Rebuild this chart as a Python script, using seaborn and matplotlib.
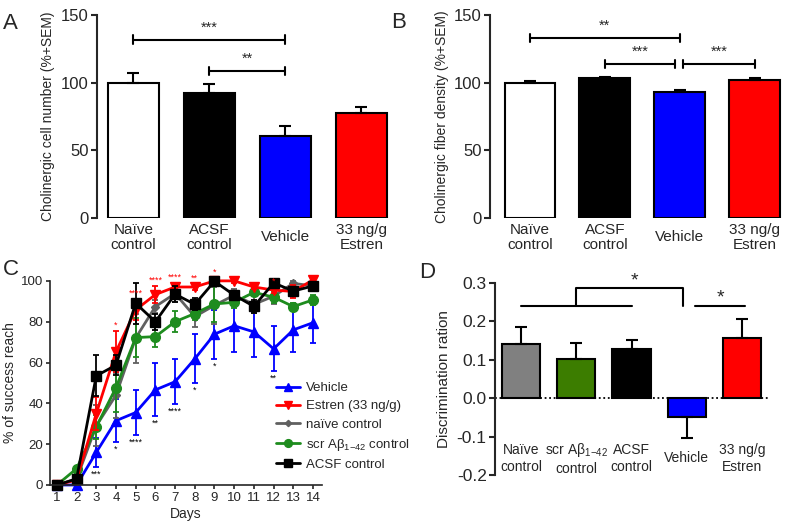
import numpy as np
import pandas as pd
import matplotlib
matplotlib.use('Agg')
import matplotlib.pyplot as plt
import seaborn as sns
from matplotlib.lines import Line2D

sns.set_theme(style="ticks")
plt.rcParams['font.family'] = ['Liberation Sans', 'DejaVu Sans']
plt.rcParams['mathtext.fontset'] = 'custom'
plt.rcParams['mathtext.rm'] = 'Liberation Sans'
plt.rcParams['axes.linewidth'] = 1.5

# ---- datos panel A / B ----
groups_ab = ['Naïve\ncontrol', 'ACSF\ncontrol', 'Vehicle', '33 ng/g\nEstren']
colors_ab = ['white', 'black', '#0000FF', '#FF0000']
cell_number = [100, 92.5, 60.5, 77.5]
cell_number_sem = [7, 6.8, 7.5, 4.7]
fiber_density = [100, 103.2, 93.3, 102]
fiber_density_sem = [1.5, 0.8, 1.5, 1.6]
sig_a = [(0, 2, 132, '***'), (1, 2, 109, '**')]
sig_b = [(0, 2, 133, '**'), (1, 1.94, 114, '***'), (2.05, 3, 114, '***')]

# ---- datos panel C ----
days = list(range(1, 15))
vehicle = [0, 0, 16, 31.5, 35.5, 46.6, 50.6, 61.8, 73.9, 78, 75, 66.7, 76, 79.5]
vehicle_sem = [0, 0, 7, 10.5, 11, 13, 11, 12, 12, 13, 12.5, 11, 11, 10]
estren = [0, 2.5, 35, 65.3, 85.8, 93.3, 97, 97, 100, 100, 97, 95.5, 94.8, 100.5]
estren_sem = [0, 1, 8, 10, 5, 4, 2, 1.5, 1, 1, 1, 1.5, 3, 1.5]
naive = [0, 3, 29, 44, 72, 87.4, 93.8, 82.5, 88, 93, 88.5, 92.5, 98.8, 97.5]
naive_sem = [0, 1, 10, 11, 12, 3, 4, 5, 9, 3, 4, 4, 1, 2]
scr = [0, 8, 28.5, 47.7, 72.2, 72.7, 80, 84, 88.7, 89.5, 94.4, 92, 87.4, 90.7]
scr_sem = [0, 1.5, 6, 12, 9.5, 5, 5, 3, 9, 3, 2, 3, 2, 2.5]
acsf = [0, 3, 53.5, 58.7, 89, 80, 93.5, 88.5, 99.8, 93, 87.5, 99, 95, 97.5]
acsf_sem = [0, 1, 10, 5, 10, 4, 4, 3, 2, 2, 3, 2, 2, 1]
red_stars = {4: '*', 5: '****', 6: '****', 7: '****', 8: '**', 9: '*', 12: '*'}
black_stars = {3: '***', 4: '*', 5: '****', 6: '**', 7: '****', 8: '*', 9: '*', 12: '**'}

# ---- datos panel D ----
abeta = 'Aβ$_{\\mathregular{1{-}42}}$'
groups_d = ['Naïve\ncontrol', 'scr ' + abeta + '\ncontrol', 'ACSF\ncontrol', 'Vehicle', '33 ng/g\nEstren']
colors_d = ['#808080', '#3C7D00', 'black', '#0000FF', '#FF0000']
discrimination = [0.1415, 0.1016, 0.127, -0.0495, 0.157]
discrimination_sem = [0.0435, 0.041, 0.025, 0.053, 0.0505]

fig = plt.figure(figsize=(7.87, 5.25), dpi=100)


def bar_panel(ax, labels, vals, errs, colors, width):
    df = pd.DataFrame({'group': labels, 'value': vals})
    sns.barplot(data=df, x='group', y='value', hue='group', palette=colors, width=width,
                edgecolor='black', linewidth=1.5, saturation=1, legend=False, ax=ax)
    x = np.arange(len(vals))
    vals = np.array(vals)
    errs = np.array(errs)
    up = np.where(vals >= 0, errs, 0)
    lo = np.where(vals < 0, errs, 0)
    ax.errorbar(x, vals, yerr=[lo, up], fmt='none', ecolor='black', elinewidth=1.5,
                capsize=4.5, capthick=1.5, zorder=3)
    ax.set_xlabel('')
    sns.despine(ax=ax, bottom=True)


def brackets(ax, sigs, tick, off):
    for x1, x2, y, txt in sigs:
        ax.plot([x1, x2], [y, y], color='black', lw=1.5, clip_on=False)
        ax.plot([x1, x1], [y - tick, y + tick], color='black', lw=1.5, clip_on=False)
        ax.plot([x2, x2], [y - tick, y + tick], color='black', lw=1.5, clip_on=False)
        ax.text((x1 + x2) / 2, y + off, txt, ha='center', va='center', fontsize=10.5)


# Panel A
axA = fig.add_axes([0.123, 0.585, 0.373, 0.386])
bar_panel(axA, groups_ab, cell_number, cell_number_sem, colors_ab, 0.67)
axA.set_xlim(-0.48, 3.38)
axA.set_ylim(0, 150)
axA.set_yticks([0, 50, 100, 150])
axA.set_ylabel('Cholinergic cell number (%+SEM)', fontsize=10)
brackets(axA, sig_a, 3, 9)

# Panel B
axB = fig.add_axes([0.623, 0.585, 0.372, 0.386])
bar_panel(axB, groups_ab, fiber_density, fiber_density_sem, colors_ab, 0.68)
axB.set_xlim(-0.53, 3.38)
axB.set_ylim(0, 150)
axB.set_yticks([0, 50, 100, 150])
axB.set_ylabel('Cholinergic fiber density (%+SEM)', fontsize=10)
brackets(axB, sig_b, 3, 9)

for ax in (axA, axB):
    ax.set_xticks(range(4))
    ax.set_xticklabels(groups_ab, fontsize=11, va='center', linespacing=1.1)
    ax.tick_params(axis='x', length=0, pad=14)
    ax.tick_params(axis='y', labelsize=12, length=4, width=1.5, pad=2)

# Panel C
axC = fig.add_axes([0.0635, 0.0762, 0.3455, 0.3888])
series = [
    ('Vehicle', vehicle, vehicle_sem, '#0000FF', '^', 7),
    ('naïve control', naive, naive_sem, '#606060', 'D', 4),
    ('scr ' + abeta + ' control', scr, scr_sem, '#1E8C1E', 'o', 7),
    ('Estren (33 ng/g)', estren, estren_sem, '#FF0000', 'v', 7),
    ('ACSF control', acsf, acsf_sem, '#000000', 's', 6.5),
]
for name, vals, errs, col, mk, ms in series:
    axC.errorbar(days, vals, yerr=errs, fmt='none', ecolor=col, elinewidth=1.3,
                 capsize=2.2, capthick=1.3, clip_on=False)
    sns.lineplot(x=days, y=vals, color=col, marker=mk, markersize=ms, lw=2,
                 markeredgecolor=col, markeredgewidth=1, clip_on=False, ax=axC)

for d, s in red_stars.items():
    i = days.index(d)
    axC.text(d, estren[i] + estren_sem[i] + 3, s, color='#FF0000', fontsize=6.5,
             ha='center', va='center')
for d, s in black_stars.items():
    i = days.index(d)
    axC.text(d, vehicle[i] - vehicle_sem[i] - 3.5, s, color='black', fontsize=6.5,
             ha='center', va='center')

axC.set_xlim(0.65, 14.45)
axC.set_ylim(0, 100)
axC.set_xticks(days)
axC.set_yticks([0, 20, 40, 60, 80, 100])
axC.set_xlabel('Days', fontsize=10, labelpad=2)
axC.set_ylabel('% of success reach', fontsize=10, labelpad=3)
axC.tick_params(labelsize=9.5, length=3, width=1.2, pad=2)
for sp in ('left', 'bottom'):
    axC.spines[sp].set_linewidth(1.2)
sns.despine(ax=axC)

legend_order = [0, 3, 1, 2, 4]
handles = []
for k in legend_order:
    name, vals, errs, col, mk, ms = series[k]
    handles.append(Line2D([0], [0], color=col, lw=2, marker=mk, markersize=ms * 0.8,
                          markeredgecolor=col, label=name))
axC.legend(handles=handles, loc='upper left', bbox_to_anchor=(276 / 787, 1 - 382 / 525),
           bbox_transform=fig.transFigure, frameon=False, fontsize=9.5,
           handlelength=1.8, handletextpad=0.5, labelspacing=0.45,
           borderpad=0, borderaxespad=0)

# Panel D
axD = fig.add_axes([0.629, 0.095, 0.347, 0.366])
bar_panel(axD, groups_d, discrimination, discrimination_sem, colors_d, 0.69)
axD.set_xlim(-0.47, 4.47)
axD.set_ylim(-0.2, 0.3)
axD.set_yticks([-0.2, -0.1, 0.0, 0.1, 0.2, 0.3])
axD.set_yticklabels(['-0.2', '-0.1', '0.0', '0.1', '0.2', '0.3'])
axD.axhline(0, color='black', lw=1.3, ls=(0, (1, 1.5)), zorder=0.5)
axD.set_ylabel('Discrimination ration', fontsize=11)
axD.set_xticks(range(5))
axD.set_xticklabels(groups_d, fontsize=10, va='center', linespacing=1.2)
axD.tick_params(axis='x', length=0, pad=-12)
axD.tick_params(axis='y', labelsize=12.5, length=4, width=1.5, pad=2)
axD.plot([0, 2], [0.24, 0.24], color='black', lw=1.5)
axD.plot([1, 1, 2.93, 2.93], [0.24, 0.286, 0.286, 0.24], color='black', lw=1.5)
axD.text(2.06, 0.305, '*', ha='center', va='center', fontsize=14)
axD.plot([3.15, 4.05], [0.24, 0.24], color='black', lw=1.5)
axD.text(3.6, 0.26, '*', ha='center', va='center', fontsize=14)

# letras de panel
fig.text(0.004, 0.975, 'A', fontsize=16, va='top')
fig.text(0.497, 0.978, 'B', fontsize=16, va='top')
fig.text(0.004, 0.507, 'C', fontsize=16, va='top')
fig.text(0.533, 0.5, 'D', fontsize=16, va='top')

fig.savefig('out.png', dpi=100)
